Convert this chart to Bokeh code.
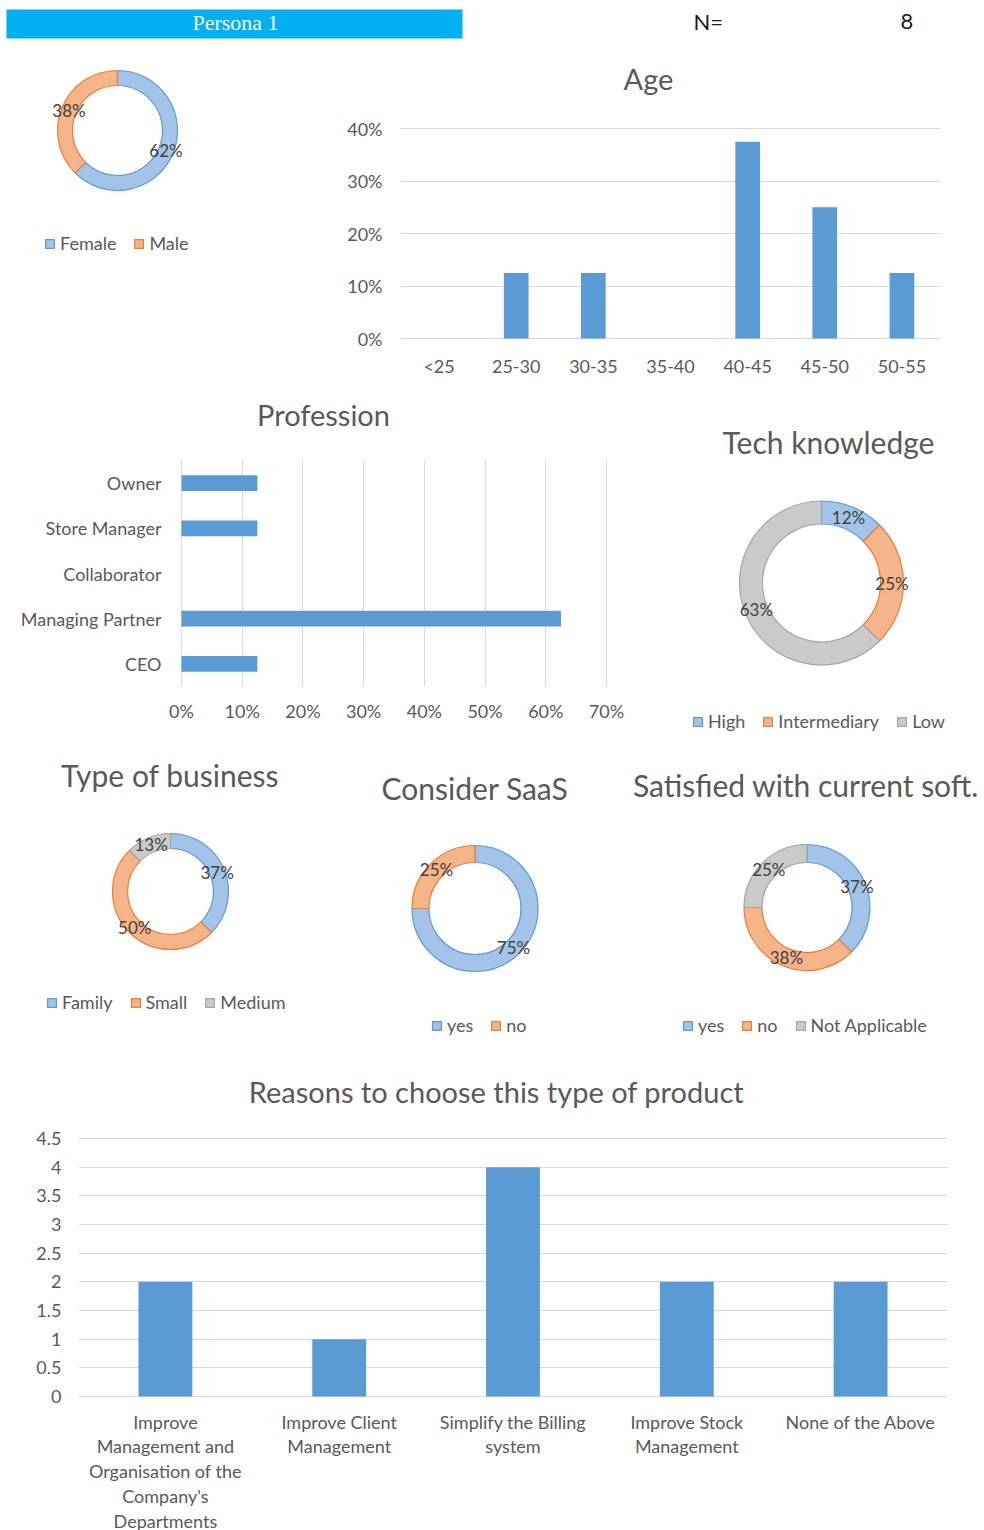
import numpy as np
from bokeh.plotting import figure
from bokeh.models import (Range1d, FactorRange, ColumnDataSource, Legend, LegendItem,
                          NumeralTickFormatter, FixedTicker)
from bokeh.layouts import row, column
from bokeh.embed import file_html
from bokeh.resources import INLINE
from bokeh.core.properties import value

# ---------------- data ----------------
persona_name = "Persona 1"
n_label = "N="
n_respondents = 8

gender_labels = ["Female", "Male"]
gender_values = [0.625, 0.375]
gender_texts = ["62%", "38%"]

age_categories = ["<25", "25-30", "30-35", "35-40", "40-45", "45-50", "50-55"]
age_values = [0.0, 0.125, 0.125, 0.0, 0.375, 0.25, 0.125]
age_ticks = [0.0, 0.1, 0.2, 0.3, 0.4]

profession_categories = ["Owner", "Store Manager", "Collaborator", "Managing Partner", "CEO"]
profession_values = [0.125, 0.125, 0.0, 0.625, 0.125]
profession_ticks = [0.0, 0.1, 0.2, 0.3, 0.4, 0.5, 0.6, 0.7]

tech_labels = ["High", "Intermediary", "Low"]
tech_values = [0.125, 0.25, 0.625]
tech_texts = ["12%", "25%", "63%"]

business_labels = ["Family", "Small", "Medium"]
business_values = [0.375, 0.5, 0.125]
business_texts = ["37%", "50%", "13%"]

saas_labels = ["yes", "no"]
saas_values = [0.75, 0.25]
saas_texts = ["75%", "25%"]

satisfied_labels = ["yes", "no", "Not Applicable"]
satisfied_values = [0.375, 0.375, 0.25]
satisfied_texts = ["37%", "38%", "25%"]

reason_categories = ["Improve Management and Organisation of the Company's Departments",
                     "Improve Client Management", "Simplify the Billing system",
                     "Improve Stock Management", "None of the Above"]
reason_tick_labels = ["Improve\nManagement and\nOrganisation of the\nCompany's\nDepartments",
                      "Improve Client\nManagement", "Simplify the Billing\nsystem",
                      "Improve Stock\nManagement", "None of the Above"]
reason_values = [2, 1, 4, 2, 2]
reason_ticks = [0, 0.5, 1, 1.5, 2, 2.5, 3, 3.5, 4, 4.5]

# ---------------- styles ----------------
FONT = "Lato"
TEXT = "#595959"
LABEL = "#404040"
BAR = "#5B9BD5"
GRID = "#D9D9D9"
FILLS = ["#A3C4E8", "#F5B48A", "#CACACA"]
LINES = ["#5B9BD5", "#ED7D31", "#A5A5A5"]
SMALL = "18px"


def canvas(w, h, left=0, right=0):
    # pixel-unit canvas; borders match the chart below it so frames align
    p = figure(width=w, height=h, x_range=Range1d(left, w - right), y_range=Range1d(0, h),
               x_axis_type=None, y_axis_type=None, output_backend="svg",
               toolbar_location=None, min_border=0, min_border_left=left,
               min_border_right=right, title=None)
    p.outline_line_color = None
    return p


def add_title(p, text, x, y, size="29px"):
    p.text(x=[x], y=[y], text=[text], text_font=value(FONT), text_font_size=size,
           text_color=TEXT, text_align="center", text_baseline="middle")


def donut(w, h, labels, values, texts, center, r_out, r_in, legend_loc,
          title=None, title_xy=None):
    p = canvas(w, h)
    n = len(values)
    vals = np.asarray(values, dtype=float)
    cum = np.concatenate([[0.0], np.cumsum(vals)])
    start = np.pi / 2 - 2 * np.pi * cum[:-1]
    end = np.pi / 2 - 2 * np.pi * cum[1:]
    mid = np.pi / 2 - 2 * np.pi * (cum[:-1] + cum[1:]) / 2
    rm = (r_out + r_in) / 2
    src = ColumnDataSource(dict(
        label=list(labels), start=start, end=end,
        fill=FILLS[:n], line=LINES[:n],
        tx=center[0] + rm * np.cos(mid), ty=center[1] + rm * np.sin(mid),
        text=list(texts)))
    r = p.annular_wedge(x=center[0], y=center[1], inner_radius=r_in, outer_radius=r_out,
                        start_angle="start", end_angle="end", direction="clock",
                        fill_color="fill", line_color="line", line_width=1.2, source=src)
    p.text(x="tx", y="ty", text="text", source=src, text_font=value(FONT),
           text_font_size="17px", text_color=LABEL, text_align="center",
           text_baseline="middle")
    items = [LegendItem(label=lab, renderers=[r], index=i) for i, lab in enumerate(labels)]
    leg = Legend(items=items, orientation="horizontal", location=legend_loc,
                 padding=0, margin=0, spacing=17, label_standoff=5,
                 glyph_width=11, glyph_height=11, label_height=20,
                 label_text_font=FONT, label_text_font_size=SMALL,
                 label_text_color=TEXT, border_line_color=None,
                 background_fill_alpha=0)
    p.add_layout(leg)
    if title is not None:
        add_title(p, title, *title_xy, size="30px")
    return p


def style_axes(p, size=SMALL):
    p.outline_line_color = None
    for ax in p.axis:
        ax.axis_line_color = None
        ax.major_tick_line_color = None
        ax.minor_tick_line_color = None
        ax.major_tick_out = 0
        ax.major_tick_in = 0
        ax.major_label_text_font = FONT
        ax.major_label_text_font_size = size
        ax.major_label_text_color = TEXT


# ---------------- header ----------------
hdr = canvas(984, 50)
hdr.quad(left=[6], right=[462], bottom=[12], top=[41], fill_color="#00B0F0",
         line_color="#7FD7F7", line_width=1)
hdr.text(x=[235], y=[28], text=[persona_name], text_font=value("Liberation Serif"),
         text_font_size="22px", text_color="white", text_align="center",
         text_baseline="middle")
hdr.text(x=[693], y=[29], text=[n_label], text_font=value(FONT), text_font_size="22px",
         text_color="#1A1A1A", text_align="left", text_baseline="middle")
hdr.text(x=[900], y=[29], text=[str(n_respondents)], text_font=value(FONT),
         text_font_size="22px", text_color="#1A1A1A", text_align="left",
         text_baseline="middle")

# ---------------- gender ----------------
gender = donut(330, 340, gender_labels, gender_values, gender_texts,
               center=(117, 260), r_out=60, r_in=45, legend_loc=(44, 136))

# ---------------- age ----------------
age_title = canvas(654, 50, left=70, right=44)
add_title(age_title, "Age", 318, 22)
apad = 0.4 / 210
age = figure(width=654, height=290, x_range=FactorRange(*age_categories),
             y_range=Range1d(-apad, 0.4 + apad), output_backend="svg",
             toolbar_location=None, title=None, min_border_left=70, min_border_right=44,
             min_border_top=27, min_border_bottom=51)
age.vbar(x=age_categories, top=age_values, width=0.32, fill_color=BAR, line_color=None)
age.xgrid.visible = False
age.ygrid.ticker = FixedTicker(ticks=age_ticks)
age.ygrid.grid_line_color = GRID
age.yaxis.ticker = FixedTicker(ticks=age_ticks)
age.yaxis.formatter = NumeralTickFormatter(format="0%")
style_axes(age)
age.yaxis.major_label_standoff = 18
age.xaxis.major_label_standoff = 15

# ---------------- profession ----------------
prof_title = canvas(650, 50, left=180, right=43)
add_title(prof_title, "Profession", 323, 26)
ppad = 0.7 / 425
prof = figure(width=650, height=302, x_range=Range1d(-ppad, 0.7 + ppad),
              y_range=FactorRange(*reversed(profession_categories)),
              output_backend="svg", toolbar_location=None, title=None,
              min_border_left=180, min_border_right=43,
              min_border_top=20, min_border_bottom=56)
prof.hbar(y=profession_categories, right=profession_values, height=0.35,
          fill_color=BAR, line_color=None)
prof.ygrid.visible = False
prof.xgrid.ticker = FixedTicker(ticks=profession_ticks)
prof.xgrid.grid_line_color = GRID
prof.xaxis.ticker = FixedTicker(ticks=profession_ticks)
prof.xaxis.formatter = NumeralTickFormatter(format="0%")
style_axes(prof)
prof.yaxis.major_label_standoff = 19
prof.xaxis.major_label_standoff = 13

# ---------------- tech knowledge ----------------
tech = donut(334, 352, tech_labels, tech_values, tech_texts,
             center=(171, 159.5), r_out=82, r_in=59, legend_loc=(42, 10),
             title="Tech knowledge", title_xy=(178, 301))

# ---------------- row of three donuts ----------------
business = donut(330, 318, business_labels, business_values, business_texts,
                 center=(170, 169), r_out=58, r_in=43, legend_loc=(46, 47),
                 title="Type of business", title_xy=(169.5, 286))
saas = donut(290, 318, saas_labels, saas_values, saas_texts,
             center=(144.5, 152), r_out=63, r_in=46, legend_loc=(101, 24),
             title="Consider SaaS", title_xy=(144.5, 273))
satisfied = donut(364, 318, satisfied_labels, satisfied_values, satisfied_texts,
                  center=(186.5, 153), r_out=63, r_in=45, legend_loc=(62, 24),
                  title="Satisfied with current soft.", title_xy=(185.5, 276))

# ---------------- reasons ----------------
reasons_title = canvas(984, 60, left=78, right=37)
add_title(reasons_title, "Reasons to choose this type of product", 496, 29)
rpad = 4.5 / 258
reasons = figure(width=984, height=288, x_range=FactorRange(*reason_categories),
                 y_range=Range1d(-rpad, 4.5 + rpad), output_backend="svg",
                 toolbar_location=None, title=None, min_border_left=78,
                 min_border_right=37, min_border_top=17, min_border_bottom=11)
reasons.vbar(x=reason_categories, top=reason_values, width=0.31, fill_color=BAR,
             line_color=None)
reasons.xgrid.visible = False
reasons.xaxis.visible = False
reasons.ygrid.ticker = FixedTicker(ticks=reason_ticks)
reasons.ygrid.grid_line_color = GRID
reasons.yaxis.ticker = FixedTicker(ticks=reason_ticks)
reasons.yaxis.formatter = NumeralTickFormatter(format="0.[0]")
style_axes(reasons)
reasons.yaxis.major_label_standoff = 17

# category labels, wrapped, placed through the shared categorical x scale
lab_h = 122
lx, ly, lt = [], [], []
for cat, lab in zip(reason_categories, reason_tick_labels):
    for i, line in enumerate(lab.split("\n")):
        lx.append(cat)
        ly.append(lab_h - 13 - i * 24.75)
        lt.append(line)
reason_labels = figure(width=984, height=lab_h, x_range=reasons.x_range,
                       y_range=Range1d(0, lab_h), x_axis_type=None, y_axis_type=None,
                       output_backend="svg", toolbar_location=None, title=None,
                       min_border_left=78, min_border_right=37, min_border_top=0,
                       min_border_bottom=0)
reason_labels.outline_line_color = None
reason_labels.text(x=lx, y=ly, text=lt, text_font=value(FONT), text_font_size=SMALL,
                   text_color=TEXT, text_align="center", text_baseline="middle")

layout = column(
    hdr,
    row(gender, column(age_title, age)),
    row(column(prof_title, prof), tech),
    row(business, saas, satisfied),
    column(reasons_title, reasons, reason_labels),
)

with open("out.html", "w") as f:
    f.write(file_html(layout, INLINE))
